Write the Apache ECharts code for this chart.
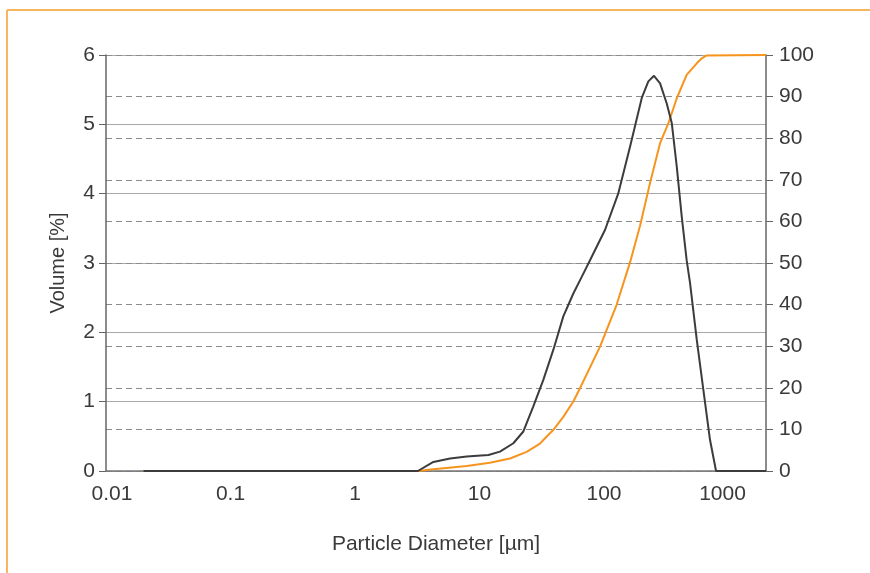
<!DOCTYPE html>
<html>
<head>
<meta charset="utf-8">
<script src="https://cdn.jsdelivr.net/npm/echarts@6/dist/echarts.min.js"></script>
<style>
  html, body { margin: 0; padding: 0; background: #fff; }
  #chart { width: 870px; height: 573px; }
</style>
</head>
<body>
<div id="chart"></div>
<script>
// particle diameter [µm] vs volume [%]
const volumeCurve = [
  [0.02, 0], [3.2, 0], [4.26, 0.13], [5.8, 0.18], [7.9, 0.21], [11.8, 0.23],
  [14.6, 0.28], [18.7, 0.40], [22.5, 0.57], [27, 0.93], [32.5, 1.31],
  [39.2, 1.75], [47.1, 2.23], [56.7, 2.56], [66.2, 2.80], [77.2, 3.04],
  [102, 3.48], [130, 4.0], [162, 4.68], [201, 5.38], [227, 5.62], [252, 5.70],
  [282, 5.59], [319, 5.30], [350, 5.02], [384, 4.39], [421, 3.67],
  [461, 3.04], [491, 2.71], [556, 1.89], [628, 1.17], [710, 0.45],
  [794, 0], [2000, 0]
];
// cumulative volume [%]
const cumulativeCurve = [
  [0.02, 0], [3.2, 0], [4.26, 0.4], [7.9, 1.2], [12.1, 2.0], [17.6, 3.0],
  [23.9, 4.6], [30.6, 6.6], [39.2, 9.9], [47.1, 13.0], [56.7, 16.7],
  [64.1, 19.9], [92.9, 29.9], [126, 39.9], [162, 50.2], [183, 56],
  [195, 59], [234, 69.2], [282, 78.8], [329, 83.6], [384, 89.6],
  [461, 95.2], [556, 98.0], [610, 99.2], [668, 99.9], [2000, 100]
];
const xTickLabels = ['0.01', '0.1', '1', '10', '100', '1000'];
const leftTicks = [0, 1, 2, 3, 4, 5, 6];
const rightTicks = [0, 10, 20, 30, 40, 50, 60, 70, 80, 90, 100];

const font = 'Liberation Sans, Helvetica, Arial, sans-serif';
const textColor = '#3a3a3a';

const chart = echarts.init(document.getElementById('chart'));
chart.setOption({
  animation: false,
  textStyle: { fontFamily: font },
  grid: { left: 106, right: 104, top: 55, bottom: 102, containLabel: false, outerBoundsMode: 'none' },
  graphic: [
    { type: 'line', shape: { x1: 7, y1: 10, x2: 870, y2: 10 }, style: { stroke: '#f9b660', lineWidth: 2 } },
    { type: 'line', shape: { x1: 7, y1: 10, x2: 7, y2: 573 }, style: { stroke: '#f9b660', lineWidth: 2 } }
  ],
  xAxis: {
    type: 'log',
    logBase: 10,
    min: 0.01,
    max: 2000,
    name: 'Particle Diameter [µm]',
    nameLocation: 'middle',
    nameGap: 63,
    nameTextStyle: { fontSize: 21, color: textColor, fontFamily: font },
    axisLine: { lineStyle: { color: '#777', width: 1.5 } },
    axisTick: { show: false },
    splitLine: { show: false },
    axisLabel: {
      fontSize: 21, color: textColor, margin: 13, fontFamily: font,
      formatter: (v) => {
        const e = Math.log10(v);
        if (Math.abs(e - Math.round(e)) > 1e-6) return '';
        const i = Math.round(e) + 2;
        const t = xTickLabels[i] || '';
        if (i === 0) return '{first|' + t + '}';
        if (i === xTickLabels.length - 1) return '{last|' + t + '}';
        return t;
      },
      rich: {
        first: { fontSize: 21, color: textColor, fontFamily: font, padding: [0, 0, 0, 12] },
        last: { fontSize: 21, color: textColor, fontFamily: font, padding: [0, 12, 0, 0] }
      }
    }
  },
  yAxis: [
    {
      type: 'value',
      min: leftTicks[0],
      max: leftTicks[leftTicks.length - 1],
      interval: 1,
      name: 'Volume [%]',
      nameLocation: 'middle',
      nameGap: 38,
      nameTextStyle: { fontSize: 20, color: textColor, fontFamily: font },
      axisLine: { show: true, lineStyle: { color: '#666', width: 1.5 } },
      axisTick: { show: true, length: 7, lineStyle: { color: '#666' } },
      axisLabel: { fontSize: 21, color: textColor, margin: 11, fontFamily: font },
      splitLine: { lineStyle: { color: '#a8a8a8', width: 1 } }
    },
    {
      type: 'value',
      position: 'right',
      min: rightTicks[0],
      max: rightTicks[rightTicks.length - 1],
      interval: 10,
      axisLine: { show: true, lineStyle: { color: '#666', width: 1.5 } },
      axisTick: { show: true, length: 7, lineStyle: { color: '#666' } },
      axisLabel: { fontSize: 21, color: textColor, margin: 13, fontFamily: font },
      splitLine: { lineStyle: { color: '#8c8c8c', width: 1, type: [6, 4] } }
    }
  ],
  series: [
    {
      name: 'Cumulative',
      type: 'line',
      yAxisIndex: 1,
      data: cumulativeCurve,
      showSymbol: false,
      lineStyle: { color: '#f7941d', width: 2 }
    },
    {
      name: 'Volume',
      type: 'line',
      yAxisIndex: 0,
      data: volumeCurve,
      showSymbol: false,
      lineStyle: { color: '#3c3c3c', width: 2 }
    }
  ]
});
</script>
</body>
</html>
